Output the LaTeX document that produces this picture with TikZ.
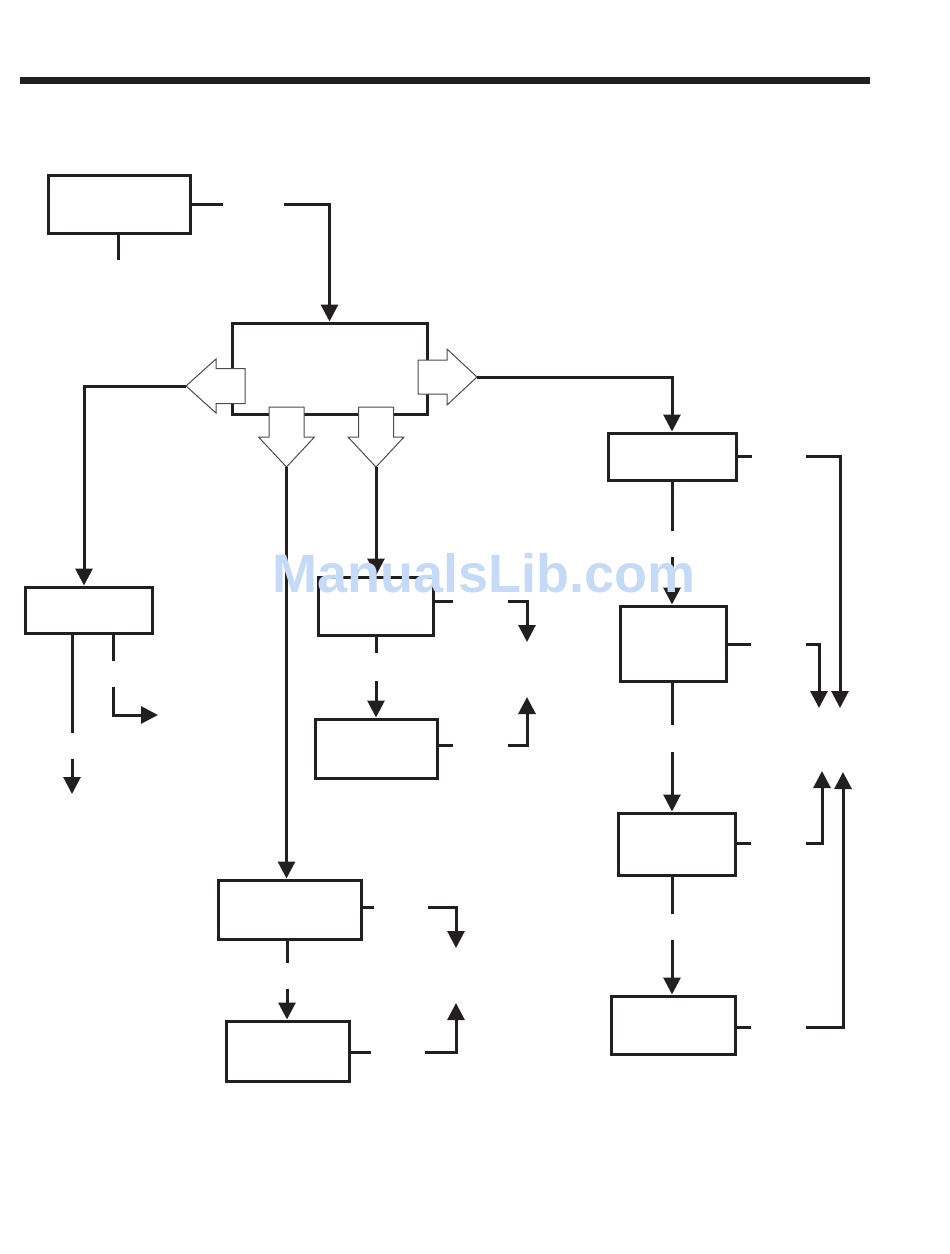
\documentclass[tikz,border=0pt]{standalone}
\usepackage{fontspec}
\setsansfont{Liberation Sans}
\usepackage{tikz}
\usetikzlibrary{arrows.meta,calc}
\definecolor{wmblue}{RGB}{197,218,246}
\definecolor{ink}{RGB}{35,31,32}

\begin{document}
\begin{tikzpicture}[x=1pt,y=-1pt,>={Triangle[width=17pt,length=17pt]},color=ink]
  \tikzstyle{box}=[draw=ink,line width=3pt,inner sep=0pt,fill=white]
  \tikzstyle{link}=[line width=3pt]
  \tikzstyle{hollow}=[draw=black!70,line width=1pt,fill=white,line join=miter]
  \useasboundingbox (0,0) rectangle (950,1254);
  \draw[line width=7pt] (20,80) -- (870,80);
  % boxes
  \node[box,minimum width=142,minimum height=58] (top) at (119,204) {};
  \node[box,minimum width=195,minimum height=91] (hub) at (329.5,368.5) {};
  \node[box,minimum width=127,minimum height=46] (lbox) at (88.5,610) {};
  \node[box,minimum width=115,minimum height=58] (m1) at (376,606) {};
  \node[box,minimum width=122,minimum height=59] (m2) at (376,748.5) {};
  \node[box,minimum width=143,minimum height=59] (c1) at (289.5,909.5) {};
  \node[box,minimum width=123,minimum height=60] (c2) at (287.5,1051) {};
  \node[box,minimum width=128,minimum height=47] (r1) at (672,456.5) {};
  \node[box,minimum width=106,minimum height=75] (r2) at (673,643.5) {};
  \node[box,minimum width=117,minimum height=62] (r3) at (676.5,844) {};
  \node[box,minimum width=124,minimum height=58] (r4) at (673,1025) {};
  % hollow arrows out of the hub
  \draw[hollow] (186,386) -- (216,359) -- (216,368.5) -- (245,368.5) -- (245,403.5)
    -- (216,403.5) -- (216,413) -- cycle;
  \coordinate (lt) at (186,386);
  \draw[hollow] (418,360) -- (447,360) -- (447,349) -- (477,377) -- (447,405)
    -- (447,394) -- (418,394) -- cycle;
  \coordinate (rt) at (477,377);
  \foreach \x/\n in {286.5/dl,376/dr}{
    \draw[hollow] (\x-17.5,407) -- (\x+17.5,407) -- (\x+17.5,437) -- (\x+28,437)
      -- (\x,467) -- (\x-28,437) -- (\x-17.5,437) -- cycle;
    \coordinate (\n) at (\x,467);
  }
  % broken connectors
  \coordinate (a1) at (223,204);
  \coordinate (a2) at (284,204);
  \coordinate (a3) at (118,260);
  \draw[link] (top.east) -- (a1);
  \draw[link,->] (a2) -| (hub.north);
  \draw[link] (a3 |- top.south) -- (a3);
  \coordinate (lk) at (84,386);
  \draw[link,->] (lt) -- (lk) -- (lk |- lbox.north);
  \draw[link,->] (rt) -| (r1.north);
  \draw[link,->] (dl) -- (dl |- c1.north);
  \draw[link,->] (dr) -- (dr |- m1.north);
  % left box
  \coordinate (lg1) at (72,733);
  \coordinate (lg2) at (72,759);
  \coordinate (lo1) at (72,794);
  \coordinate (lg3) at (113,661);
  \coordinate (lg4) at (113,687);
  \coordinate (lo2) at (158,715);
  \draw[link] (lg1 |- lbox.south) -- (lg1);
  \draw[link,->] (lg2) -- (lo1);
  \draw[link] (lg3 |- lbox.south) -- (lg3);
  \draw[link,->] (lg4) |- (lo2);
  % middle column
  \coordinate (g1) at (376,653);
  \coordinate (g2) at (376,681);
  \draw[link] (g1 |- m1.south) -- (g1);
  \draw[link,->] (g2) -- (g2 |- m2.north);
  \coordinate (s1) at (453,601);
  \coordinate (s2) at (508,601);
  \coordinate (o1) at (527,642);
  \draw[link] (m1.east |- s1) -- (s1);
  \draw[link,->] (s2) -| (o1);
  \coordinate (s3) at (453,745);
  \coordinate (s4) at (508,745);
  \coordinate (o2) at (527,697);
  \draw[link] (m2.east |- s3) -- (s3);
  \draw[link,->] (s4) -| (o2);
  % lower middle column
  \coordinate (f1) at (374,907);
  \coordinate (f2) at (428,907);
  \coordinate (o3) at (456,948);
  \draw[link] (c1.east |- f1) -- (f1);
  \draw[link,->] (f2) -| (o3);
  \coordinate (f3) at (287,963);
  \coordinate (f4) at (287,989);
  \draw[link] (f3 |- c1.south) -- (f3);
  \draw[link,->] (f4) -- (f4 |- c2.north);
  \coordinate (f5) at (371,1052);
  \coordinate (f6) at (425,1052);
  \coordinate (o4) at (456,1003);
  \draw[link] (c2.east |- f5) -- (f5);
  \draw[link,->] (f6) -| (o4);
  % right column
  \coordinate (e1) at (752,456);
  \coordinate (e2) at (806,456);
  \coordinate (o5) at (840,708);
  \draw[link] (r1.east |- e1) -- (e1);
  \draw[link,->] (e2) -| (o5);
  \coordinate (e3) at (672,531);
  \coordinate (e4) at (672,557);
  \draw[link] (e3 |- r1.south) -- (e3);
  \draw[link,->] (e4) -- (e4 |- r2.north);
  \coordinate (e5) at (751,644);
  \coordinate (e6) at (806,644);
  \coordinate (o6) at (819,708);
  \draw[link] (r2.east |- e5) -- (e5);
  \draw[link,->] (e6) -| (o6);
  \coordinate (e7) at (672,725);
  \coordinate (e8) at (672,752);
  \draw[link] (e7 |- r2.south) -- (e7);
  \draw[link,->] (e8) -- (e8 |- r3.north);
  \coordinate (e9) at (751,843);
  \coordinate (e10) at (806,843);
  \coordinate (o7) at (822,771);
  \draw[link] (r3.east |- e9) -- (e9);
  \draw[link,->] (e10) -| (o7);
  \coordinate (e11) at (672,914);
  \coordinate (e12) at (672,940);
  \draw[link] (e11 |- r3.south) -- (e11);
  \draw[link,->] (e12) -- (e12 |- r4.north);
  \coordinate (e13) at (751,1027);
  \coordinate (e14) at (806,1027);
  \coordinate (o8) at (843,772);
  \draw[link] (r4.east |- e13) -- (e13);
  \draw[link,->] (e14) -| (o8);
  % watermark
  \node[anchor=base,inner sep=0pt,text=wmblue,font=\sffamily\bfseries\fontsize{54}{54}\selectfont] (wm) at (484,592) {ManualsLib.com};
\end{tikzpicture}
\end{document}
